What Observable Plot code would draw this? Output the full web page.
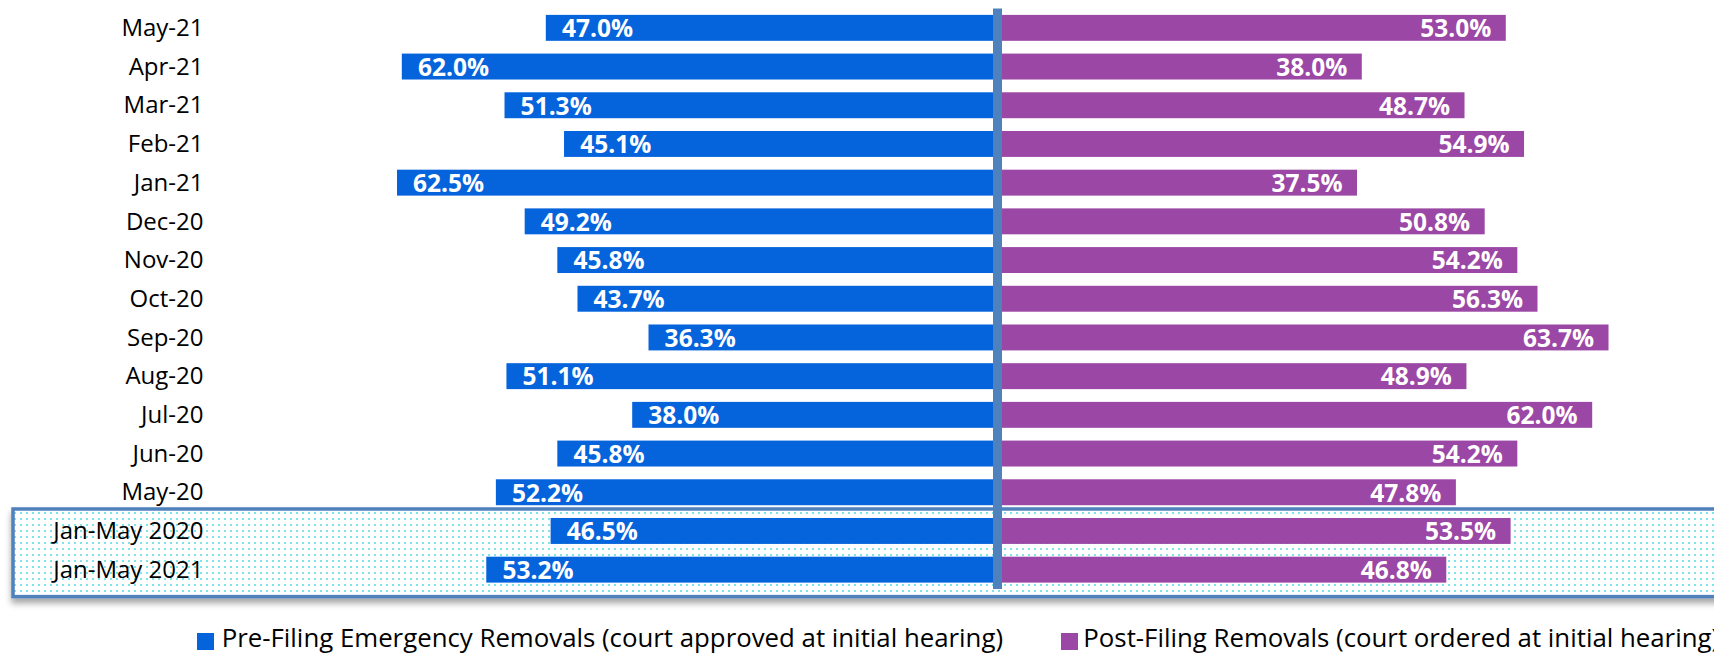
<!DOCTYPE html>
<html>
<head>
<meta charset="utf-8">
<script src="https://cdn.jsdelivr.net/npm/d3@7"></script>
<script src="https://cdn.jsdelivr.net/npm/@observablehq/plot@0.6"></script>
<style>
  html, body { margin: 0; padding: 0; background: #fff; }
  #wrap { position: relative; width: 1714px; height: 655px; overflow: hidden; font-family: "Open Sans", sans-serif; }
  .lg-sw { position: absolute; width: 17px; height: 17px; }
  .lg-tx { position: absolute; font-size: 25.8px; line-height: 26px; color: #000; white-space: nowrap; }
</style>
</head>
<body>
<div id="wrap"></div>
<script>
// ---- data ----
const categories = ["May-21","Apr-21","Mar-21","Feb-21","Jan-21","Dec-20","Nov-20","Oct-20","Sep-20","Aug-20","Jul-20","Jun-20","May-20","Jan-May 2020","Jan-May 2021"];
const preFiling  = [47.0, 62.0, 51.3, 45.1, 62.5, 49.2, 45.8, 43.7, 36.3, 51.1, 38.0, 45.8, 52.2, 46.5, 53.2];
const postFiling = [53.0, 38.0, 48.7, 54.9, 37.5, 50.8, 54.2, 56.3, 63.7, 48.9, 62.0, 54.2, 47.8, 53.5, 46.8];
const seriesNames = ["Pre-Filing Emergency Removals (court approved at initial hearing)", "Post-Filing Removals (court ordered at initial hearing)"];
const seriesColors = ["#0563dc", "#9b47a5"];
const highlighted = ["Jan-May 2020", "Jan-May 2021"];

const rows = categories.map((c, i) => ({category: c, pre: preFiling[i], post: postFiling[i]}));
const fmt = v => v.toFixed(1) + "%";

const W = 1714, H = 615;
const chart = Plot.plot({
  width: W,
  height: H,
  marginTop: 8.5,
  marginBottom: 26,
  marginLeft: 229,
  marginRight: 6.6,
  style: {fontFamily: "Open Sans, sans-serif", fontSize: "24px", color: "#000", background: "transparent", overflow: "visible"},
  x: {domain: [-80, 74], axis: null},
  y: {domain: categories, paddingInner: 0.33, paddingOuter: 0.165, round: false, label: null},
  marks: [
    Plot.barX(rows, {x1: 0, x2: d => -d.pre, y: "category", fill: seriesColors[0]}),
    Plot.barX(rows, {x1: 0, x2: "post", y: "category", fill: seriesColors[1]}),
    Plot.ruleX([0], {stroke: "#4f81bd", strokeWidth: 9}),
    Plot.text(rows, {x: d => -d.pre, y: "category", text: d => fmt(d.pre), textAnchor: "start", dx: 15.6, dy: 1, fill: "#fff", fontWeight: "bold", fontSize: 24.5}),
    Plot.text(rows, {x: "post", y: "category", text: d => fmt(d.post), textAnchor: "end", dx: -15, dy: 1, fill: "#fff", fontWeight: "bold", fontSize: 24.5}),
    Plot.axisY({tickSize: 0, tickPadding: 26, fontSize: 24, label: null})
  ]
});

// Highlight box behind the two Jan-May rows, positioned from the library's y scale
const ys = chart.scale("y");
const y0 = ys.apply(highlighted[0]);
const y1 = ys.apply(highlighted[1]) + ys.bandwidth;
const svg = d3.select(chart);
const defs = svg.insert("defs", ":first-child");
const pat = defs.append("pattern").attr("id", "dots").attr("patternUnits", "userSpaceOnUse")
  .attr("width", 6).attr("height", 6);
pat.append("rect").attr("width", 6).attr("height", 6).attr("fill", "#fff");
pat.append("rect").attr("x", 2).attr("y", 2).attr("width", 2).attr("height", 2).attr("fill", "#7fe4e8");
const flt = defs.append("filter").attr("id", "shadow").attr("x", "-5%").attr("y", "-20%").attr("width", "110%").attr("height", "150%");
flt.append("feDropShadow").attr("dx", 0).attr("dy", 5).attr("stdDeviation", 3).attr("flood-color", "#000").attr("flood-opacity", 0.35);
svg.insert("rect", "defs + *")
  .attr("x", 13).attr("y", y0 - 9)
  .attr("width", W + 20).attr("height", (y1 + 14) - (y0 - 9))
  .attr("fill", "url(#dots)")
  .attr("stroke", "#4f81bd").attr("stroke-width", 3.5)
  .attr("filter", "url(#shadow)");

const wrap = document.getElementById("wrap");
wrap.appendChild(chart);
chart.style.position = "absolute";
chart.style.left = "0px";
chart.style.top = "0px";

// Legend below the chart
const legendX = [[197, 221.7], [1061, 1083.3]];
seriesNames.forEach((name, i) => {
  const sw = document.createElement("div");
  sw.className = "lg-sw";
  sw.style.left = legendX[i][0] + "px";
  sw.style.top = "633px";
  sw.style.background = seriesColors[i];
  wrap.appendChild(sw);
  const tx = document.createElement("div");
  tx.className = "lg-tx";
  tx.style.left = legendX[i][1] + "px";
  tx.style.top = "624px";
  tx.textContent = name;
  wrap.appendChild(tx);
});
</script>
</body>
</html>
